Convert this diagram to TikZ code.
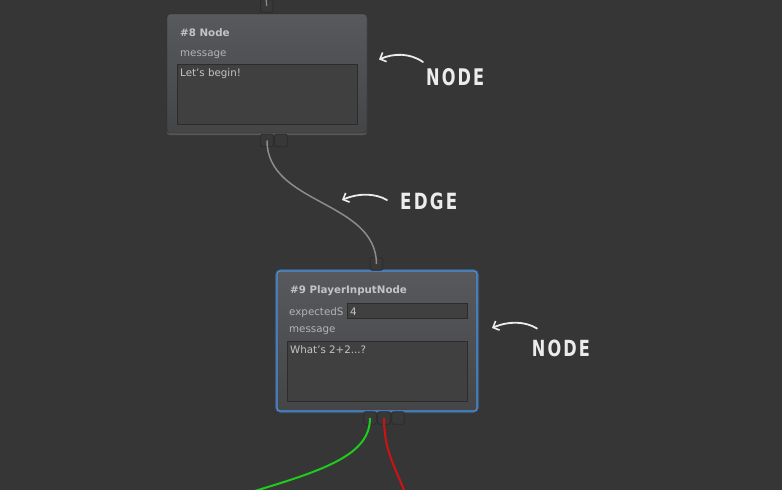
\documentclass[tikz,border=0pt]{standalone}
\usepackage{fontspec}
\setmainfont{DejaVu Sans}
\usetikzlibrary{arrows.meta,shadows}
\definecolor{bg}{HTML}{363636}
\definecolor{boxtop}{HTML}{57595D}
\definecolor{boxbot}{HTML}{444547}
\definecolor{boxline}{HTML}{2A2A2A}
\definecolor{fieldfill}{HTML}{404040}
\definecolor{fieldline}{HTML}{2C2C2C}
\definecolor{porfill}{HTML}{383838}
\definecolor{txt}{HTML}{B4B4B4}
\definecolor{hdr}{HTML}{C4C4C4}
\definecolor{selblue}{HTML}{4A92DC}
\definecolor{edgegray}{HTML}{8C8C8C}
\definecolor{wiregreen}{HTML}{1ECC1E}
\definecolor{wirered}{HTML}{D01212}
\definecolor{anno}{HTML}{ECECEC}
\begin{document}
\begin{tikzpicture}[x=1pt,y=-1pt,
  nodebox/.style={rounded corners=3pt, draw=boxline, top color=boxtop, bottom color=boxbot, minimum width=200pt, inner sep=0pt},
  field/.style={draw=fieldline, fill=fieldfill, line width=0.8pt, inner sep=0pt, minimum width=180pt},
  portbox/.style={draw=boxline, fill=porfill, rounded corners=2pt, minimum width=12.5pt, minimum height=12.5pt, inner sep=0pt, line width=0.8pt},
  hdrtext/.style={anchor=base west, inner sep=0pt, text=hdr, font=\fontsize{10.3}{12}\selectfont\bfseries},
  lbltext/.style={anchor=base west, inner sep=0pt, text=txt, font=\fontsize{10.3}{12}\selectfont},
  fldtext/.style={anchor=base west, inner sep=0pt, text=hdr, font=\fontsize{10.3}{12}\selectfont},
  annolabel/.style={anchor=north west, inner sep=0pt, text=anno, font=\bfseries},
  annoarrow/.style={draw=anno, line width=1.8pt, line cap=round, -{Straight Barb[length=5pt,width=10pt,line width=1.6pt]}},
]
\fill[bg] (0,0) rectangle (782,490);
\useasboundingbox (0,0) rectangle (782,490);

% node 8
\node[nodebox, minimum height=119pt, drop shadow={opacity=0.45, shadow xshift=0pt, shadow yshift=-2pt}] (n8) at (267,73.5) {};
\node[hdrtext] (n8title) at (180,36) {\#8 Node};
\node[lbltext] (n8msg) at (180,56) {message};
\node[field, minimum height=60pt] (n8field) at (267,94) {};
\node[fldtext] (n8text) at (180,76.5) {Let's begin!};

% node 9
\draw[selblue!60!bg, line width=4pt, rounded corners=4pt, opacity=0.6] (277,271) rectangle (477,411);
\node[nodebox, minimum height=140pt, draw=selblue, line width=1.2pt] (n9) at (377,341) {};
\node[hdrtext] (n9title) at (290,293) {\#9 PlayerInputNode};
\node[lbltext] (n9exp) at (289,315) {expectedS};
\node[field, minimum width=120pt, minimum height=15.5pt] (n9expfield) at (407,311) {};
\node[fldtext] (n9four) at (350,315) {4};
\node[lbltext] (n9msg) at (289,332) {message};
\node[field, minimum height=60pt] (n9field) at (377,371) {};
\node[fldtext] (n9text) at (290,353) {What's 2+2...?};

% ports
\node[portbox] (n8top) at (266.7,6) {};
\node[portbox] (n8a) at (267,140.5) {};
\node[portbox] (n8b) at (281,140.5) {};
\node[portbox] (n9top) at (376.5,264) {};
\node[portbox] (n9a) at (370,418) {};
\node[portbox] (n9b) at (384,418) {};
\node[portbox] (n9c) at (398,418) {};

% edges
\coordinate (topend) at (266,-2);
\coordinate (greenend) at (248,493);
\coordinate (redend) at (405,493);
\draw[edgegray, line width=1.2pt] (n8top.center) -- (topend);
\draw[edgegray, line width=1.5pt] (n8a.center) .. controls (267,205) and (376,200) .. (n9top.center);
\draw[wiregreen, line width=2pt] (n9a.center) .. controls (370,455) and (325,470) .. (greenend);
\draw[wirered, line width=2pt] (n9b.center) .. controls (384,452) and (396,468) .. (redend);

% annotations
\node[annolabel] (lab1) at (426,68.3) {\resizebox{58pt}{17pt}{N\kern1.3pt O\kern1.3pt D\kern1.3pt E}};
\node[annolabel] (lab2) at (400,192.7) {\resizebox{57pt}{16.6pt}{E\kern1.3pt D\kern1.3pt G\kern1.3pt E}};
\node[annolabel] (lab3) at (531.7,339.3) {\resizebox{58pt}{16.5pt}{N\kern1.3pt O\kern1.3pt D\kern1.3pt E}};
\coordinate (a1s) at (423,62);
\coordinate (a1e) at (379,59.5);
\coordinate (a2s) at (387,200);
\coordinate (a2e) at (342,200);
\coordinate (a3s) at (537,328.5);
\coordinate (a3e) at (492,328);
\draw[annoarrow] (a1s) .. controls (410,53) and (394,53) .. (a1e);
\draw[annoarrow] (a2s) .. controls (375,193) and (358,193) .. (a2e);
\draw[annoarrow] (a3s) .. controls (525,321) and (508,321) .. (a3e);
\end{tikzpicture}
\end{document}
